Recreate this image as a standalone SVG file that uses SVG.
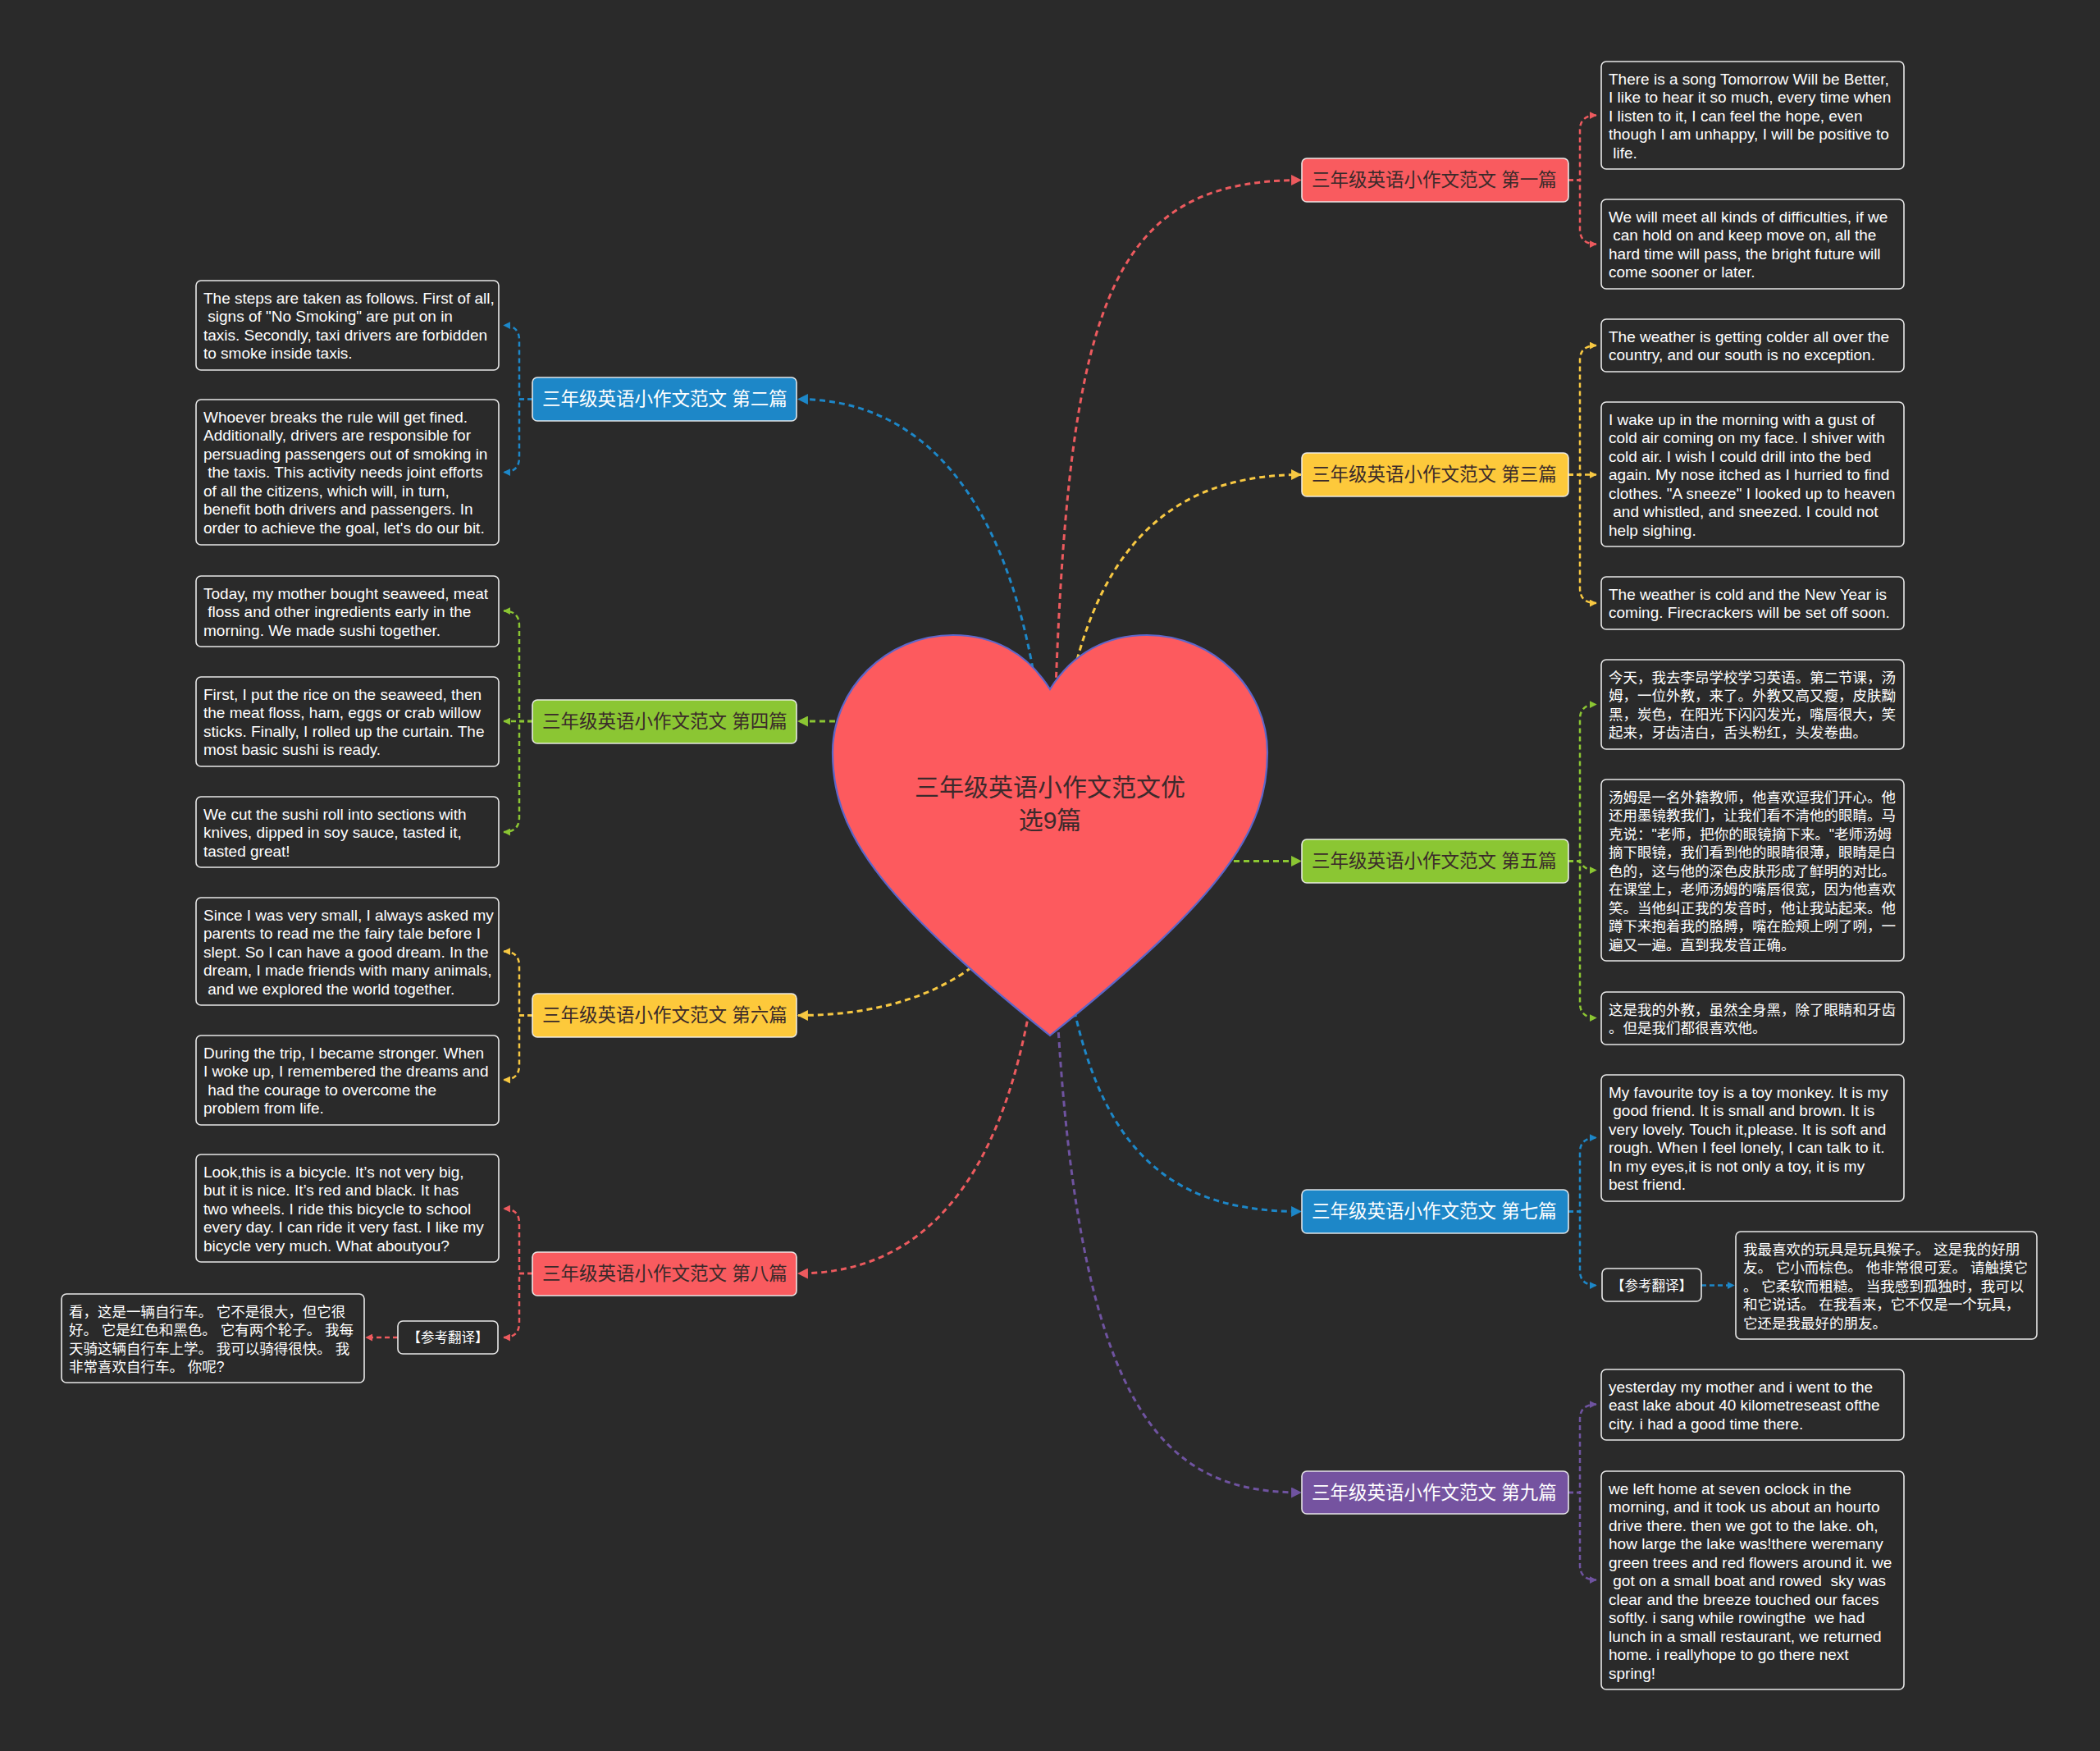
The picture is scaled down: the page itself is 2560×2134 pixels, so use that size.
<svg xmlns="http://www.w3.org/2000/svg" width="2560" height="2134" viewBox="0 0 2560 2134">
<defs>
<style>
.bg{fill:#2a2a2a}
.leafbox{fill:#2a2a2a;stroke:#e8e8e8;stroke-width:1.6}
.lt{font-family:"Liberation Sans","Noto Sans CJK SC",sans-serif;font-size:19px;fill:#ffffff}
.zh{font-family:"Liberation Sans","Noto Sans CJK SC",sans-serif;font-size:17.5px;fill:#ffffff}
.ref{font-family:"Liberation Sans","Noto Sans CJK SC",sans-serif;font-size:16.5px;fill:#ffffff;text-anchor:middle}
.nt{font-family:"Liberation Sans","Noto Sans CJK SC",sans-serif;font-size:22.5px}
.dark{fill:#3a2a2a}
.light{fill:#ffffff}
.node{stroke:#f4f4f4;stroke-width:1.6;stroke-opacity:0.9}
.main{fill:none;stroke-width:3;stroke-dasharray:7 5}
.sub{fill:none;stroke-width:2.5;stroke-dasharray:6 4}
.red{stroke:#ec5a5e}
.blue{stroke:#1d87c8}
.yellow{stroke:#f7c842}
.green{stroke:#8bc633}
.purple{stroke:#6f53a0}
</style>
<marker id="mR" markerUnits="userSpaceOnUse" viewBox="0 0 12 12" markerWidth="13" markerHeight="13" refX="11" refY="6" orient="auto"><path d="M0,0 L12,6 L0,12 z" fill="#ec5a5e"/></marker>
<marker id="mB" markerUnits="userSpaceOnUse" viewBox="0 0 12 12" markerWidth="13" markerHeight="13" refX="11" refY="6" orient="auto"><path d="M0,0 L12,6 L0,12 z" fill="#1d87c8"/></marker>
<marker id="mY" markerUnits="userSpaceOnUse" viewBox="0 0 12 12" markerWidth="13" markerHeight="13" refX="11" refY="6" orient="auto"><path d="M0,0 L12,6 L0,12 z" fill="#f7c842"/></marker>
<marker id="mG" markerUnits="userSpaceOnUse" viewBox="0 0 12 12" markerWidth="13" markerHeight="13" refX="11" refY="6" orient="auto"><path d="M0,0 L12,6 L0,12 z" fill="#8bc633"/></marker>
<marker id="mP" markerUnits="userSpaceOnUse" viewBox="0 0 12 12" markerWidth="13" markerHeight="13" refX="11" refY="6" orient="auto"><path d="M0,0 L12,6 L0,12 z" fill="#6f53a0"/></marker>
<marker id="sR" markerUnits="userSpaceOnUse" viewBox="0 0 12 12" markerWidth="9" markerHeight="9" refX="11" refY="6" orient="auto"><path d="M0,0 L12,6 L0,12 z" fill="#ec5a5e"/></marker>
<marker id="sB" markerUnits="userSpaceOnUse" viewBox="0 0 12 12" markerWidth="9" markerHeight="9" refX="11" refY="6" orient="auto"><path d="M0,0 L12,6 L0,12 z" fill="#1d87c8"/></marker>
<marker id="sY" markerUnits="userSpaceOnUse" viewBox="0 0 12 12" markerWidth="9" markerHeight="9" refX="11" refY="6" orient="auto"><path d="M0,0 L12,6 L0,12 z" fill="#f7c842"/></marker>
<marker id="sG" markerUnits="userSpaceOnUse" viewBox="0 0 12 12" markerWidth="9" markerHeight="9" refX="11" refY="6" orient="auto"><path d="M0,0 L12,6 L0,12 z" fill="#8bc633"/></marker>
<marker id="sP" markerUnits="userSpaceOnUse" viewBox="0 0 12 12" markerWidth="9" markerHeight="9" refX="11" refY="6" orient="auto"><path d="M0,0 L12,6 L0,12 z" fill="#6f53a0"/></marker>
</defs>
<rect class="bg" x="0" y="0" width="2560" height="2134"/>

<g id="connectors">
<path class="main red" marker-end="url(#mR)" d="M1282,1018 C1295,400 1330,219.5 1586,219.5"/>
<path class="main blue" marker-end="url(#mB)" d="M1278,1018 C1270,650 1150,486.5 973,486.5"/>
<path class="main yellow" marker-end="url(#mY)" d="M1285,1018 C1295,700 1400,578.5 1586,578.5"/>
<path class="main green" marker-end="url(#mG)" d="M1150,879 L973,879"/>
<path class="main green" marker-end="url(#mG)" d="M1420,1049.5 L1586,1049.5"/>
<path class="main yellow" marker-end="url(#mY)" d="M1280,1018 C1250,1180 1120,1237.5 973,1237.5"/>
<path class="main blue" marker-end="url(#mB)" d="M1285,1018 C1300,1380 1400,1476.5 1586,1476.5"/>
<path class="main red" marker-end="url(#mR)" d="M1275,1018 C1265,1400 1150,1552 973,1552"/>
<path class="main purple" marker-end="url(#mP)" d="M1282,1018 C1290,1700 1400,1819 1586,1819"/>

<path class="sub red" marker-end="url(#sR)" d="M1912,219.5 L1926,219.5 L1926,158.5 Q1926,140.5 1946,140.5"/>
<path class="sub red" marker-end="url(#sR)" d="M1912,219.5 L1926,219.5 L1926,279.5 Q1926,297.5 1946,297.5"/>
<path class="sub yellow" marker-end="url(#sY)" d="M1912,578.5 L1926,578.5 L1926,439 Q1926,421 1946,421"/>
<path class="sub yellow" marker-end="url(#sY)" d="M1912,578.5 L1946,578.5"/>
<path class="sub yellow" marker-end="url(#sY)" d="M1912,578.5 L1926,578.5 L1926,717 Q1926,735 1946,735"/>
<path class="sub green" marker-end="url(#sG)" d="M1912,1049.5 L1926,1049.5 L1926,876.5 Q1926,858.5 1946,858.5"/>
<path class="sub green" marker-end="url(#sG)" d="M1912,1049.5 L1922,1049.5 C1930,1049.5 1926,1060.5 1946,1060.5"/>
<path class="sub green" marker-end="url(#sG)" d="M1912,1049.5 L1926,1049.5 L1926,1222.5 Q1926,1240.5 1946,1240.5"/>
<path class="sub blue" marker-end="url(#sB)" d="M1912,1476.5 L1926,1476.5 L1926,1404.5 Q1926,1386.5 1946,1386.5"/>
<path class="sub blue" marker-end="url(#sB)" d="M1912,1476.5 L1926,1476.5 L1926,1548.5 Q1926,1566.5 1946,1566.5"/>
<path class="sub blue" marker-end="url(#sB)" d="M2074,1566.5 L2114,1566.5"/>
<path class="sub purple" marker-end="url(#sP)" d="M1912,1819 L1926,1819 L1926,1729.5 Q1926,1711.5 1946,1711.5"/>
<path class="sub purple" marker-end="url(#sP)" d="M1912,1819 L1926,1819 L1926,1907.5 Q1926,1925.5 1946,1925.5"/>

<path class="sub blue" marker-end="url(#sB)" d="M649,486.5 L633,486.5 L633,414.5 Q633,396.5 614,396.5"/>
<path class="sub blue" marker-end="url(#sB)" d="M649,486.5 L633,486.5 L633,557.5 Q633,575.5 614,575.5"/>
<path class="sub green" marker-end="url(#sG)" d="M649,879 L633,879 L633,762.5 Q633,744.5 614,744.5"/>
<path class="sub green" marker-end="url(#sG)" d="M649,879 L614,879"/>
<path class="sub green" marker-end="url(#sG)" d="M649,879 L633,879 L633,996 Q633,1014 614,1014"/>
<path class="sub yellow" marker-end="url(#sY)" d="M649,1237.5 L633,1237.5 L633,1177.5 Q633,1159.5 614,1159.5"/>
<path class="sub yellow" marker-end="url(#sY)" d="M649,1237.5 L633,1237.5 L633,1298 Q633,1316 614,1316"/>
<path class="sub red" marker-end="url(#sR)" d="M649,1552 L633,1552 L633,1491 Q633,1473 614,1473"/>
<path class="sub red" marker-end="url(#sR)" d="M649,1552 L633,1552 L633,1612 Q633,1630 614,1630"/>
<path class="sub red" marker-end="url(#sR)" d="M485,1630 L446,1630"/>
</g>

<g id="center">
<path d="M1280,840 C1252,795 1210,774 1162,774 C1080,774 1015,840 1015,917 C1015,1010 1065,1090 1280,1262 C1495,1090 1545,1010 1545,917 C1545,840 1480,774 1398,774 C1350,774 1308,795 1280,840 Z" fill="#fd5a5e" stroke="#5c66c9" stroke-width="2.2"/>
<text x="1280" y="969.5" text-anchor="middle" font-family="Liberation Sans,Noto Sans CJK SC,sans-serif" font-size="30" fill="#3c2a2c">三年级英语小作文范文优</text>
<text x="1280" y="1009.5" text-anchor="middle" font-family="Liberation Sans,Noto Sans CJK SC,sans-serif" font-size="30" fill="#3c2a2c">选9篇</text>
</g>

<g id="n1"><rect class="node" x="1587" y="193" width="325" height="53" rx="6" fill="#f95b5f"/><text class="nt dark" x="1599" y="227">三年级英语小作文范文 第一篇</text></g>
<g id="n2"><rect class="node" x="649" y="460" width="322" height="53" rx="6" fill="#1d87c8"/><text class="nt light" x="661" y="494">三年级英语小作文范文 第二篇</text></g>
<g id="n3"><rect class="node" x="1587" y="552" width="325" height="53" rx="6" fill="#fdc93b"/><text class="nt dark" x="1599" y="586">三年级英语小作文范文 第三篇</text></g>
<g id="n4"><rect class="node" x="649" y="853" width="322" height="53" rx="6" fill="#8bc633"/><text class="nt dark" x="661" y="886.5">三年级英语小作文范文 第四篇</text></g>
<g id="n5"><rect class="node" x="1587" y="1023" width="325" height="53" rx="6" fill="#8bc633"/><text class="nt dark" x="1599" y="1057">三年级英语小作文范文 第五篇</text></g>
<g id="n6"><rect class="node" x="649" y="1211" width="322" height="53" rx="6" fill="#fdc93b"/><text class="nt dark" x="661" y="1245">三年级英语小作文范文 第六篇</text></g>
<g id="n7"><rect class="node" x="1587" y="1450" width="325" height="53" rx="6" fill="#1d87c8"/><text class="nt light" x="1599" y="1484">三年级英语小作文范文 第七篇</text></g>
<g id="n8"><rect class="node" x="649" y="1526" width="322" height="53" rx="6" fill="#f95b5f"/><text class="nt dark" x="661" y="1559.5">三年级英语小作文范文 第八篇</text></g>
<g id="n9"><rect class="node" x="1587" y="1793" width="325" height="52" rx="6" fill="#7553a0"/><text class="nt light" x="1599" y="1826.5">三年级英语小作文范文 第九篇</text></g>

<g id="l1a"><rect class="leafbox" x="1952" y="75" width="369" height="131" rx="6"/>
<text class="lt" xml:space="preserve"><tspan x="1961" y="102.5">There is a song Tomorrow Will be Better,</tspan><tspan x="1961" y="125">I like to hear it so much, every time when</tspan><tspan x="1961" y="147.5">I listen to it, I can feel the hope, even</tspan><tspan x="1961" y="170">though I am unhappy, I will be positive to</tspan><tspan x="1961" y="192.5"> life.</tspan></text></g>
<g id="l1b"><rect class="leafbox" x="1952" y="243" width="369" height="109" rx="6"/>
<text class="lt" xml:space="preserve"><tspan x="1961" y="270.5">We will meet all kinds of difficulties, if we</tspan><tspan x="1961" y="293"> can hold on and keep move on, all the</tspan><tspan x="1961" y="315.5">hard time will pass, the bright future will</tspan><tspan x="1961" y="338">come sooner or later.</tspan></text></g>

<g id="l3a"><rect class="leafbox" x="1952" y="389" width="369" height="64" rx="6"/>
<text class="lt"><tspan x="1961" y="416.5">The weather is getting colder all over the</tspan><tspan x="1961" y="439">country, and our south is no exception.</tspan></text></g>
<g id="l3b"><rect class="leafbox" x="1952" y="490" width="369" height="176" rx="6"/>
<text class="lt" xml:space="preserve"><tspan x="1961" y="517.5">I wake up in the morning with a gust of</tspan><tspan x="1961" y="540">cold air coming on my face. I shiver with</tspan><tspan x="1961" y="562.5">cold air. I wish I could drill into the bed</tspan><tspan x="1961" y="585">again. My nose itched as I hurried to find</tspan><tspan x="1961" y="607.5">clothes. "A sneeze" I looked up to heaven</tspan><tspan x="1961" y="630"> and whistled, and sneezed. I could not</tspan><tspan x="1961" y="652.5">help sighing.</tspan></text></g>
<g id="l3c"><rect class="leafbox" x="1952" y="703" width="369" height="64" rx="6"/>
<text class="lt"><tspan x="1961" y="730.5">The weather is cold and the New Year is</tspan><tspan x="1961" y="753">coming. Firecrackers will be set off soon.</tspan></text></g>

<g id="l5a"><rect class="leafbox" x="1952" y="804" width="369" height="109" rx="6"/>
<text class="zh"><tspan x="1961" y="831.5">今天，我去李昂学校学习英语。第二节课，汤</tspan><tspan x="1961" y="854">姆，一位外教，来了。外教又高又瘦，皮肤黝</tspan><tspan x="1961" y="876.5">黑，炭色，在阳光下闪闪发光，嘴唇很大，笑</tspan><tspan x="1961" y="899">起来，牙齿洁白，舌头粉红，头发卷曲。</tspan></text></g>
<g id="l5b"><rect class="leafbox" x="1952" y="950" width="369" height="221" rx="6"/>
<text class="zh"><tspan x="1961" y="977.5">汤姆是一名外籍教师，他喜欢逗我们开心。他</tspan><tspan x="1961" y="1000">还用墨镜教我们，让我们看不清他的眼睛。马</tspan><tspan x="1961" y="1022.5">克说："老师，把你的眼镜摘下来。"老师汤姆</tspan><tspan x="1961" y="1045">摘下眼镜，我们看到他的眼睛很薄，眼睛是白</tspan><tspan x="1961" y="1067.5">色的，这与他的深色皮肤形成了鲜明的对比。</tspan><tspan x="1961" y="1090">在课堂上，老师汤姆的嘴唇很宽，因为他喜欢</tspan><tspan x="1961" y="1112.5">笑。当他纠正我的发音时，他让我站起来。他</tspan><tspan x="1961" y="1135">蹲下来抱着我的胳膊，嘴在脸颊上咧了咧，一</tspan><tspan x="1961" y="1157.5">遍又一遍。直到我发音正确。</tspan></text></g>
<g id="l5c"><rect class="leafbox" x="1952" y="1209" width="369" height="64" rx="6"/>
<text class="zh"><tspan x="1961" y="1236.5">这是我的外教，虽然全身黑，除了眼睛和牙齿</tspan><tspan x="1961" y="1259">。但是我们都很喜欢他。</tspan></text></g>

<g id="l7a"><rect class="leafbox" x="1952" y="1310" width="369" height="154" rx="6"/>
<text class="lt" xml:space="preserve"><tspan x="1961" y="1337.5">My favourite toy is a toy monkey. It is my</tspan><tspan x="1961" y="1360"> good friend. It is small and brown. It is</tspan><tspan x="1961" y="1382.5">very lovely. Touch it,please. It is soft and</tspan><tspan x="1961" y="1405">rough. When I feel lonely, I can talk to it.</tspan><tspan x="1961" y="1427.5">In my eyes,it is not only a toy, it is my</tspan><tspan x="1961" y="1450">best friend.</tspan></text></g>
<g id="l7b"><rect class="leafbox" x="1953" y="1546" width="121" height="40" rx="6"/>
<text class="ref" x="2013.5" y="1572.5">【参考翻译】</text></g>
<g id="l7c"><rect class="leafbox" x="2116" y="1501" width="367" height="131" rx="6"/>
<text class="zh"><tspan x="2125" y="1528.5">我最喜欢的玩具是玩具猴子。 这是我的好朋</tspan><tspan x="2125" y="1551">友。 它小而棕色。 他非常很可爱。 请触摸它</tspan><tspan x="2125" y="1573.5">。 它柔软而粗糙。 当我感到孤独时，我可以</tspan><tspan x="2125" y="1596">和它说话。 在我看来，它不仅是一个玩具，</tspan><tspan x="2125" y="1618.5">它还是我最好的朋友。</tspan></text></g>

<g id="l9a"><rect class="leafbox" x="1952" y="1669" width="369" height="86" rx="6"/>
<text class="lt"><tspan x="1961" y="1696.5">yesterday my mother and i went to the</tspan><tspan x="1961" y="1719">east lake about 40 kilometreseast ofthe</tspan><tspan x="1961" y="1741.5">city. i had a good time there.</tspan></text></g>
<g id="l9b"><rect class="leafbox" x="1952" y="1793" width="369" height="266" rx="6"/>
<text class="lt" xml:space="preserve"><tspan x="1961" y="1820.5">we left home at seven oclock in the</tspan><tspan x="1961" y="1843">morning, and it took us about an hourto</tspan><tspan x="1961" y="1865.5">drive there. then we got to the lake. oh,</tspan><tspan x="1961" y="1888">how large the lake was!there weremany</tspan><tspan x="1961" y="1910.5">green trees and red flowers around it. we</tspan><tspan x="1961" y="1933"> got on a small boat and rowed  sky was</tspan><tspan x="1961" y="1955.5">clear and the breeze touched our faces</tspan><tspan x="1961" y="1978">softly. i sang while rowingthe  we had</tspan><tspan x="1961" y="2000.5">lunch in a small restaurant, we returned</tspan><tspan x="1961" y="2023">home. i reallyhope to go there next</tspan><tspan x="1961" y="2045.5">spring!</tspan></text></g>

<g id="l2a"><rect class="leafbox" x="239" y="342" width="369" height="109" rx="6"/>
<text class="lt" xml:space="preserve"><tspan x="248" y="369.5">The steps are taken as follows. First of all,</tspan><tspan x="248" y="392"> signs of "No Smoking" are put on in</tspan><tspan x="248" y="414.5">taxis. Secondly, taxi drivers are forbidden</tspan><tspan x="248" y="437">to smoke inside taxis.</tspan></text></g>
<g id="l2b"><rect class="leafbox" x="239" y="487" width="369" height="177" rx="6"/>
<text class="lt" xml:space="preserve"><tspan x="248" y="514.5">Whoever breaks the rule will get fined.</tspan><tspan x="248" y="537">Additionally, drivers are responsible for</tspan><tspan x="248" y="559.5">persuading passengers out of smoking in</tspan><tspan x="248" y="582"> the taxis. This activity needs joint efforts</tspan><tspan x="248" y="604.5">of all the citizens, which will, in turn,</tspan><tspan x="248" y="627">benefit both drivers and passengers. In</tspan><tspan x="248" y="649.5">order to achieve the goal, let's do our bit.</tspan></text></g>

<g id="l4a"><rect class="leafbox" x="239" y="702" width="369" height="86" rx="6"/>
<text class="lt" xml:space="preserve"><tspan x="248" y="729.5">Today, my mother bought seaweed, meat</tspan><tspan x="248" y="752"> floss and other ingredients early in the</tspan><tspan x="248" y="774.5">morning. We made sushi together.</tspan></text></g>
<g id="l4b"><rect class="leafbox" x="239" y="825" width="369" height="109" rx="6"/>
<text class="lt"><tspan x="248" y="852.5">First, I put the rice on the seaweed, then</tspan><tspan x="248" y="875">the meat floss, ham, eggs or crab willow</tspan><tspan x="248" y="897.5">sticks. Finally, I rolled up the curtain. The</tspan><tspan x="248" y="920">most basic sushi is ready.</tspan></text></g>
<g id="l4c"><rect class="leafbox" x="239" y="971" width="369" height="86" rx="6"/>
<text class="lt"><tspan x="248" y="998.5">We cut the sushi roll into sections with</tspan><tspan x="248" y="1021">knives, dipped in soy sauce, tasted it,</tspan><tspan x="248" y="1043.5">tasted great!</tspan></text></g>

<g id="l6a"><rect class="leafbox" x="239" y="1094" width="369" height="131" rx="6"/>
<text class="lt" xml:space="preserve"><tspan x="248" y="1121.5">Since I was very small, I always asked my</tspan><tspan x="248" y="1144">parents to read me the fairy tale before I</tspan><tspan x="248" y="1166.5">slept. So I can have a good dream. In the</tspan><tspan x="248" y="1189">dream, I made friends with many animals,</tspan><tspan x="248" y="1211.5"> and we explored the world together.</tspan></text></g>
<g id="l6b"><rect class="leafbox" x="239" y="1262" width="369" height="109" rx="6"/>
<text class="lt" xml:space="preserve"><tspan x="248" y="1289.5">During the trip, I became stronger. When</tspan><tspan x="248" y="1312">I woke up, I remembered the dreams and</tspan><tspan x="248" y="1334.5"> had the courage to overcome the</tspan><tspan x="248" y="1357">problem from life.</tspan></text></g>

<g id="l8a"><rect class="leafbox" x="239" y="1407" width="369" height="131" rx="6"/>
<text class="lt"><tspan x="248" y="1434.5">Look,this is a bicycle. It’s not very big,</tspan><tspan x="248" y="1457">but it is nice. It’s red and black. It has</tspan><tspan x="248" y="1479.5">two wheels. I ride this bicycle to school</tspan><tspan x="248" y="1502">every day. I can ride it very fast. I like my</tspan><tspan x="248" y="1524.5">bicycle very much. What aboutyou?</tspan></text></g>
<g id="l8b"><rect class="leafbox" x="485" y="1610" width="122" height="40" rx="6"/>
<text class="ref" x="546" y="1636">【参考翻译】</text></g>
<g id="l8c"><rect class="leafbox" x="75" y="1577" width="369" height="108" rx="6"/>
<text class="zh"><tspan x="84" y="1604.5">看，这是一辆自行车。 它不是很大，但它很</tspan><tspan x="84" y="1627">好。 它是红色和黑色。 它有两个轮子。 我每</tspan><tspan x="84" y="1649.5">天骑这辆自行车上学。 我可以骑得很快。 我</tspan><tspan x="84" y="1672">非常喜欢自行车。 你呢?</tspan></text></g>
</svg>
